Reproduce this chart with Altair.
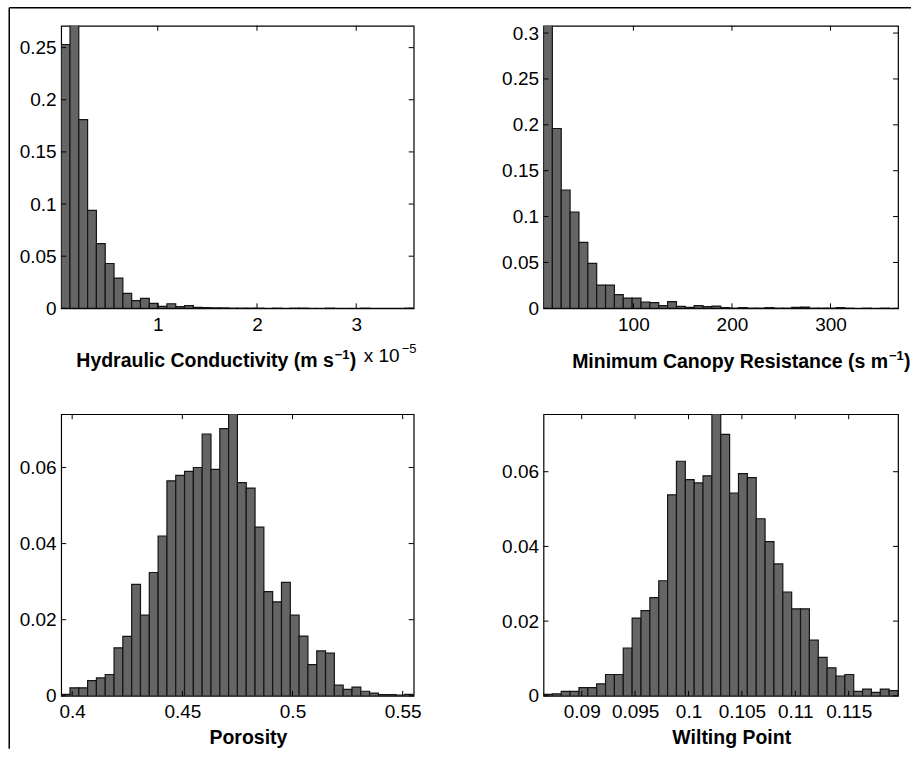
import altair as alt
import numpy as np
import pandas as pd

FONT = "Liberation Sans"
BAR_FILL = "#656565"
BAR_EDGE = "#151515"

# ---- Hydraulic conductivity (x 1e-5 m s-1) ----
k_range = [0.027, 3.579]
k_freq = [0.253, 0.29, 0.181, 0.094, 0.062, 0.043, 0.029, 0.0144, 0.0074, 0.0096,
          0.0048, 0.0018, 0.0044, 0.0016, 0.0026, 0.001, 0.0007, 0.0005, 0.0004, 0.0003,
          0.0003, 0.0002, 0.0003, 0.0001, 0.0002, 0.0001, 0.0003, 0.0002, 0.0001, 0.0001,
          0.0002, 0.0001, 0.0, 0.0001, 0.0002, 0.0001, 0.0, 0.0001, 0.0, 0.0002]
k_xticks = [1, 2, 3]
k_yticks = [0, 0.05, 0.1, 0.15, 0.2, 0.25]
k_ymax = 0.271

# ---- Minimum canopy resistance (s m-1) ----
rc_range = [8.8, 368.5]
rc_freq = [0.33, 0.196, 0.129, 0.105, 0.072, 0.049, 0.0254, 0.0254, 0.0149, 0.0112,
           0.0112, 0.0069, 0.0062, 0.003, 0.0073, 0.0022, 0.0011, 0.0029, 0.0018, 0.0025,
           0.0007, 0.0004, 0.0007, 0.0004, 0.0002, 0.0007, 0.0004, 0.0002, 0.0011, 0.0014,
           0.0004, 0.0002, 0.0004, 0.0007, 0.0002, 0.0, 0.0002, 0.0001, 0.0002, 0.0001]
rc_xticks = [100, 200, 300]
rc_yticks = [0, 0.05, 0.1, 0.15, 0.2, 0.25, 0.3]
rc_ymax = 0.308

# ---- Porosity ----
por_range = [0.395, 0.555]
por_freq = [0.0004, 0.0021, 0.0021, 0.004, 0.0047, 0.0056, 0.0126, 0.0156, 0.0293, 0.0212,
            0.0324, 0.042, 0.0565, 0.0579, 0.059, 0.06, 0.0688, 0.0595, 0.0702, 0.078,
            0.056, 0.0546, 0.0443, 0.0274, 0.0247, 0.0298, 0.0212, 0.0157, 0.0082, 0.0118,
            0.0112, 0.0028, 0.0017, 0.0023, 0.0012, 0.0007, 0.0003, 0.0003, 0.0002, 0.0004]
por_xticks = [0.4, 0.45, 0.5, 0.55]
por_yticks = [0, 0.02, 0.04, 0.06]
por_ymax = 0.074

# ---- Wilting point ----
wp_range = [0.08642, 0.11962]
wp_freq = [0.0004, 0.0005, 0.0012, 0.0012, 0.0022, 0.0022, 0.0032, 0.0057, 0.0057, 0.0128,
           0.0208, 0.0228, 0.0263, 0.0308, 0.0538, 0.0628, 0.0579, 0.057, 0.0589, 0.078,
           0.07, 0.0543, 0.0595, 0.0584, 0.0474, 0.0413, 0.0353, 0.0278, 0.0233, 0.0233,
           0.0149, 0.0103, 0.0075, 0.0053, 0.0057, 0.0012, 0.0018, 0.0009, 0.0018, 0.0014]
wp_xticks = [0.09, 0.095, 0.1, 0.105, 0.11, 0.115]
wp_yticks = [0, 0.02, 0.04, 0.06]
wp_ymax = 0.0754

one = pd.DataFrame({"a": [0]})


def hist_df(rng, freq):
    edges = np.linspace(rng[0], rng[1], len(freq) + 1)
    return pd.DataFrame({"x0": edges[:-1], "x1": edges[1:], "f": freq, "b": 0.0})


def txt(s, x, y, size, weight="bold", align="left"):
    return alt.Chart(one).mark_text(
        text=s, font=FONT, fontSize=size, fontWeight=weight, align=align,
        baseline="alphabetic", color="black"
    ).encode(x=alt.value(x), y=alt.value(y))


def panel(rng, freq, xticks, yticks, ymax, w, h, title="", title_x=0, title_y=48, extra=()):
    xs = alt.Scale(domain=rng, nice=False, zero=False)
    ys = alt.Scale(domain=[0, ymax], nice=False, zero=False)
    axis_kw = dict(ticks=False, domain=False, grid=False, labelFont=FONT,
                   labelFontSize=19, labelColor="black", format="~r", labelFlush=False)
    xaxis = alt.Axis(values=xticks, labelPadding=7, titleFont=FONT, titleFontSize=19.5,
                     titleFontWeight="bold", titleColor="black", titleX=title_x,
                     titleY=title_y, titleAlign="center", titleBaseline="alphabetic",
                     **axis_kw)
    yaxis = alt.Axis(values=yticks, labelPadding=5, **axis_kw)
    X = lambda: alt.X("x0:Q", scale=xs, axis=xaxis, title=title)
    Y = lambda: alt.Y("f:Q", scale=ys, axis=yaxis, title="")
    bars = alt.Chart(hist_df(rng, freq)).mark_bar(
        clip=True, fill=BAR_FILL, stroke=BAR_EDGE, strokeWidth=1.2
    ).encode(x=X(), x2="x1:Q", y=Y(), y2="b:Q")
    xt = pd.DataFrame({"x0": xticks})
    yt = pd.DataFrame({"f": yticks})
    tb = alt.Chart(xt).mark_rule(color="black").encode(
        x=X(), y=alt.value(h), y2=alt.value(h - 5))
    tt = alt.Chart(xt).mark_rule(color="black").encode(
        x=X(), y=alt.value(0), y2=alt.value(5))
    tl = alt.Chart(yt).mark_rule(color="black").encode(
        y=Y(), x=alt.value(0), x2=alt.value(5))
    tr = alt.Chart(yt).mark_rule(color="black").encode(
        y=Y(), x=alt.value(w - 5), x2=alt.value(w))
    return alt.layer(bars, tb, tt, tl, tr, *extra).properties(width=w, height=h)


# annotations for top-left panel (titles with superscripts, outer frame)
p1_extra = [
    txt("Hydraulic Conductivity (m s", 273, 342, 19.5, align="right"),
    txt("\u22121", 274, 334, 13),
    txt(")", 289, 342, 19.5),
    txt("x 10", 303, 337, 19, weight="normal"),
    txt("\u22125", 341, 328, 13, weight="normal"),
    alt.Chart(one).mark_rule(color="black", strokeWidth=1.5).encode(
        x=alt.value(-52), x2=alt.value(851), y=alt.value(-18)),
    alt.Chart(one).mark_rule(color="black", strokeWidth=1.5).encode(
        x=alt.value(-52), y=alt.value(-18), y2=alt.value(724)),
]
p2_extra = [
    txt("Minimum Canopy Resistance (s m", 345, 343, 19.5, align="right"),
    txt("\u22121", 346, 335, 13),
    txt(")", 361, 343, 19.5),
]

p1 = panel(k_range, k_freq, k_xticks, k_yticks, k_ymax, 353, 283, extra=p1_extra)
p2 = panel(rc_range, rc_freq, rc_xticks, rc_yticks, rc_ymax, 355, 283, extra=p2_extra)
p3 = panel(por_range, por_freq, por_xticks, por_yticks, por_ymax, 353, 282,
           title="Porosity", title_x=187, title_y=48)
p4 = panel(wp_range, wp_freq, wp_xticks, wp_yticks, wp_ymax, 355, 282,
           title="Wilting Point", title_x=188, title_y=48)

chart = alt.concat(
    p1, p2, p3, p4, columns=2, spacing={"row": 106, "column": 130}, bounds="flush"
).properties(
    padding={"left": 7.25, "top": 5.25, "right": 0, "bottom": 0},
    background="white",
).configure_view(stroke="black", strokeWidth=1.2)

chart.save("out.html", embed_options={"renderer": "svg", "actions": False})
